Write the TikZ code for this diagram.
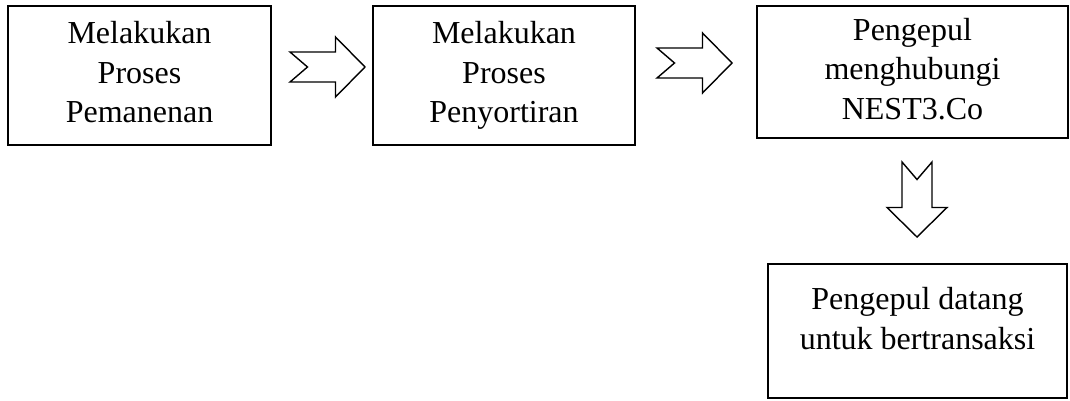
\documentclass[tikz,border=0pt]{standalone}
\usepackage{xcolor}
\usepackage{fontspec}
\setmainfont{Liberation Serif}
\usepackage{tikz}
\usetikzlibrary{shapes,arrows,calc}
\tikzstyle{block} = [rectangle, draw, line width=2.2pt, align=center,
    font=\fontsize{32}{39.5}\selectfont, inner sep=0pt, minimum width=263pt, minimum height=139pt,
    execute at begin node={\rule{0pt}{29pt}}, execute at end node={\rule[-7pt]{0pt}{7pt}}]
\tikzstyle{widerblock} = [block, minimum width=311pt, minimum height=132pt]
\tikzstyle{panah} = [draw, line width=1.4pt, line join=miter, fill=white]
\tikzset{blokpanah/.pic={
    \path [panah] (-37.5,15) -- (8,15) -- (8,30) -- (37.5,0) -- (8,-30) -- (8,-15)
        -- (-37.5,-15) -- (-20,0) -- cycle;
}}

\begin{document}
\begin{tikzpicture}[x=1pt, y=1pt, node distance=364.5pt]
    \useasboundingbox (0,0) rectangle (1070,-401);
    % Place nodes
    \node [block] (pemanenan) at (139.5,-75.5) {Melakukan\\Proses\\Pemanenan};
    \node [block, right of=pemanenan, minimum width=262pt] (penyortiran) {Melakukan\\Proses\\Penyortiran};
    \node [widerblock, right of=penyortiran, node distance=408.5pt, yshift=3.5pt] (menghubungi) {Pengepul\\menghubungi\\NEST3.Co};
    \node [widerblock, below of=menghubungi, node distance=259pt, xshift=5pt,
        minimum width=299pt, minimum height=134pt] (transaksi) {Pengepul datang\\untuk bertransaksi\\[-21pt]\mbox{}};
    % Draw edges
    \pic at ($(pemanenan.east)!0.5!(penyortiran.west)+(5.5,8.5)$) {blokpanah};
    \pic at ($(penyortiran.east)!0.5!(menghubungi.west)+(-1.5,10.75)$) {blokpanah};
    \pic [rotate=-90] at ($(menghubungi.south)!0.5!(transaksi.north)+(2,1.5)$) {blokpanah};
\end{tikzpicture}
\end{document}
